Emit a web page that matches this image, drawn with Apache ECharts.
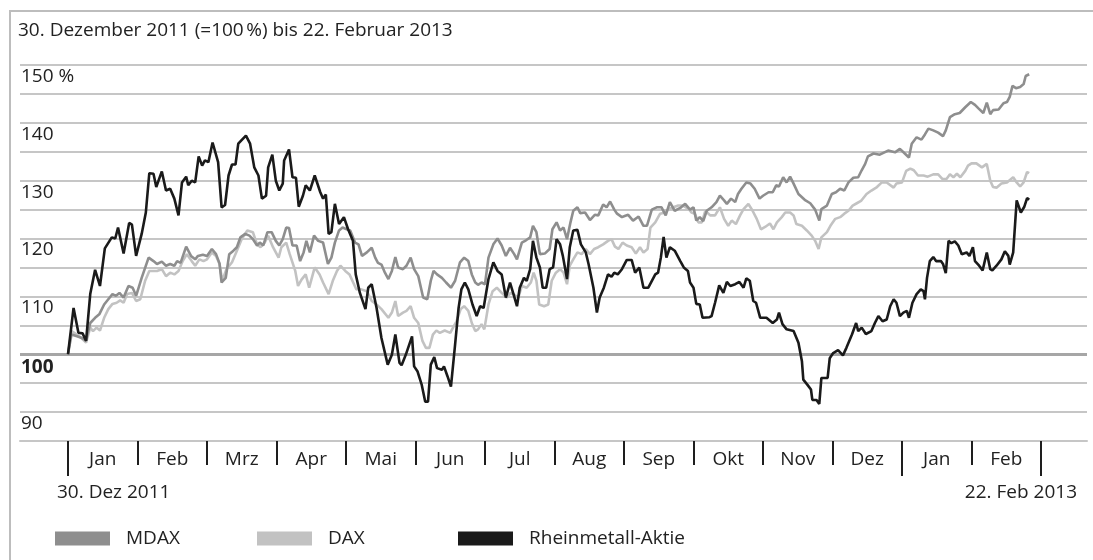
<!DOCTYPE html>
<html>
<head>
<meta charset="utf-8">
<script src="https://cdn.jsdelivr.net/npm/echarts@6/dist/echarts.min.js"></script>
<style>
  html, body { margin: 0; padding: 0; background: #fff; }
  #frame { position: absolute; left: 9px; top: 10px; width: 1100px; height: 560px;
           border-left: 2px solid #bdbdbd; border-top: 2px solid #bdbdbd; box-sizing: border-box; }
  #chart { position: absolute; left: 0; top: 0; width: 1093px; height: 560px; }
</style>
</head>
<body>
<div id="frame"></div>
<div id="chart"></div>
<script>
// x = months since 30 Dec 2011 (each calendar month one unit), y = % (30.12.2011 = 100)
const months = ['Jan','Feb','Mrz','Apr','Mai','Jun','Jul','Aug','Sep','Okt','Nov','Dez','Jan','Feb'];
const yTicks = [90, 100, 110, 120, 130, 140, 150];

const mdax = [[0,100],[0.05,103.4],[0.13,103.1],[0.20,102.8],[0.26,102.4],[0.32,105.4],[0.39,106.3],[0.45,106.9],[0.52,108.6],[0.58,109.5],[0.64,110.4],[0.69,110.1],[0.74,110.6],[0.80,109.8],[0.87,111.8],[0.93,111.5],[0.98,110.1],[1.06,113.2],[1.16,116.7],[1.23,116.1],[1.28,115.6],[1.35,116.0],[1.41,115.3],[1.47,115.6],[1.53,115.3],[1.57,116.1],[1.62,115.8],[1.70,118.6],[1.77,117.0],[1.83,116.4],[1.87,117.0],[1.94,117.2],[2.00,117.0],[2.07,118.2],[2.13,117.3],[2.18,115.7],[2.21,112.4],[2.27,113.2],[2.32,117.3],[2.38,117.9],[2.43,118.5],[2.48,120.2],[2.55,120.8],[2.61,120.5],[2.66,119.9],[2.72,118.8],[2.76,119.3],[2.81,118.8],[2.87,121.1],[2.93,121.1],[2.99,119.6],[3.04,118.8],[3.09,119.9],[3.14,121.9],[3.18,121.8],[3.23,118.8],[3.29,118.8],[3.34,116.1],[3.39,117.6],[3.43,119.6],[3.48,117.6],[3.54,120.5],[3.60,119.6],[3.67,119.3],[3.74,115.6],[3.79,116.7],[3.84,119.3],[3.90,121.4],[3.95,121.9],[4.01,121.6],[4.06,121.4],[4.13,119.3],[4.18,119.0],[4.23,117.0],[4.30,117.6],[4.37,118.4],[4.42,116.7],[4.46,115.8],[4.51,115.5],[4.56,114.1],[4.61,113.0],[4.66,114.4],[4.71,116.8],[4.75,115.0],[4.82,114.7],[4.87,115.3],[4.93,116.7],[4.98,114.7],[5.04,113.5],[5.11,109.8],[5.17,109.5],[5.22,112.7],[5.26,114.4],[5.31,113.8],[5.38,113.2],[5.44,112.4],[5.51,111.5],[5.57,112.7],[5.64,115.9],[5.70,116.7],[5.76,116.1],[5.81,113.8],[5.86,112.4],[5.90,112.0],[5.95,112.4],[6.00,112.1],[6.05,116.7],[6.12,119.0],[6.18,120.0],[6.24,118.8],[6.30,117.0],[6.36,118.4],[6.42,117.3],[6.46,116.4],[6.53,119.3],[6.59,119.7],[6.65,120.2],[6.69,122.2],[6.74,121.1],[6.79,117.3],[6.86,117.4],[6.93,118.2],[6.97,121.6],[7.03,122.8],[7.08,121.4],[7.13,121.9],[7.18,119.9],[7.23,122.8],[7.27,124.8],[7.33,125.4],[7.37,124.4],[7.44,124.5],[7.51,123.2],[7.58,124.1],[7.63,124.0],[7.70,125.9],[7.75,125.4],[7.80,126.4],[7.86,125.0],[7.90,124.3],[7.97,123.7],[8.01,123.9],[8.06,124.1],[8.13,123.1],[8.21,123.8],[8.28,122.2],[8.33,122.2],[8.40,125.0],[8.47,125.4],[8.54,125.4],[8.60,124.0],[8.66,126.3],[8.73,124.8],[8.81,125.3],[8.88,126.0],[8.95,125.0],[9.00,125.4],[9.04,123.1],[9.09,123.7],[9.14,123.0],[9.19,124.8],[9.26,125.4],[9.33,126.3],[9.38,127.4],[9.44,126.6],[9.48,126.0],[9.54,126.9],[9.60,126.3],[9.64,127.7],[9.69,128.6],[9.76,129.7],[9.82,129.5],[9.88,128.6],[9.95,126.9],[10.00,127.4],[10.08,128.0],[10.14,128.0],[10.19,129.2],[10.23,129.0],[10.29,130.6],[10.34,129.7],[10.39,130.7],[10.44,129.5],[10.51,127.7],[10.60,126.7],[10.68,126.1],[10.75,125.0],[10.81,123.1],[10.84,125.1],[10.92,125.7],[10.99,127.7],[11.05,128.0],[11.11,128.6],[11.17,128.3],[11.23,129.7],[11.30,130.5],[11.37,130.6],[11.42,131.8],[11.47,132.9],[11.51,134.2],[11.59,134.7],[11.68,134.5],[11.80,135.2],[11.90,134.9],[11.97,135.5],[12.04,134.7],[12.10,134.0],[12.14,136.4],[12.21,137.5],[12.28,137.1],[12.33,138.0],[12.38,139.0],[12.45,138.7],[12.52,138.3],[12.59,137.7],[12.63,138.7],[12.69,141.0],[12.76,141.5],[12.83,141.7],[12.91,142.7],[12.99,143.6],[13.05,143.1],[13.10,142.5],[13.17,141.7],[13.22,143.5],[13.27,141.5],[13.31,142.2],[13.39,142.3],[13.46,143.4],[13.51,143.6],[13.55,144.5],[13.59,146.4],[13.64,146.0],[13.70,146.2],[13.75,146.7],[13.78,148.1],[13.83,148.4]];

const dax = [[0,100],[0.05,104.0],[0.13,103.4],[0.20,102.7],[0.26,102.0],[0.32,104.6],[0.36,104.0],[0.41,104.6],[0.46,104.1],[0.52,106.3],[0.58,107.8],[0.64,108.7],[0.70,108.9],[0.75,109.3],[0.80,108.9],[0.85,110.4],[0.92,110.6],[0.98,109.2],[1.04,109.5],[1.11,112.7],[1.17,114.4],[1.23,114.4],[1.28,114.4],[1.35,114.7],[1.41,113.5],[1.47,114.1],[1.53,113.8],[1.59,114.4],[1.65,116.1],[1.71,117.3],[1.78,116.1],[1.83,115.3],[1.89,116.4],[1.95,116.1],[2.00,116.4],[2.07,117.6],[2.13,117.0],[2.18,115.6],[2.22,112.7],[2.28,114.7],[2.36,115.9],[2.43,117.9],[2.50,119.9],[2.58,121.4],[2.66,121.1],[2.72,119.0],[2.77,118.5],[2.83,119.3],[2.88,120.5],[2.95,118.5],[3.03,116.7],[3.07,118.5],[3.14,119.3],[3.19,117.3],[3.27,114.4],[3.31,111.8],[3.36,112.9],[3.42,113.8],[3.47,111.5],[3.55,115.0],[3.62,113.8],[3.67,112.4],[3.75,110.4],[3.81,112.7],[3.87,114.4],[3.92,115.3],[3.99,114.4],[4.05,113.8],[4.10,112.5],[4.15,111.2],[4.20,111.3],[4.30,110.9],[4.37,109.2],[4.44,108.6],[4.51,107.8],[4.61,106.3],[4.66,107.2],[4.71,109.2],[4.75,106.6],[4.82,107.2],[4.87,107.5],[4.93,108.3],[4.98,106.3],[5.04,105.4],[5.10,102.3],[5.15,101.1],[5.20,101.1],[5.25,103.4],[5.30,104.1],[5.35,103.7],[5.42,104.1],[5.50,103.7],[5.54,104.6],[5.59,105.7],[5.65,107.8],[5.70,108.3],[5.76,107.5],[5.81,105.4],[5.86,104.0],[5.90,104.3],[5.95,105.2],[5.99,104.3],[6.05,108.6],[6.11,110.9],[6.17,111.5],[6.24,110.6],[6.31,109.8],[6.37,110.6],[6.43,110.2],[6.48,109.8],[6.53,111.8],[6.60,111.5],[6.66,112.4],[6.70,114.1],[6.74,112.7],[6.78,108.6],[6.85,108.3],[6.91,108.6],[6.96,112.7],[7.02,114.1],[7.08,114.7],[7.13,114.1],[7.18,112.1],[7.22,115.3],[7.27,116.4],[7.33,117.6],[7.39,117.3],[7.45,118.2],[7.51,117.3],[7.57,118.2],[7.63,118.5],[7.70,119.0],[7.77,119.6],[7.82,119.9],[7.87,118.6],[7.92,118.2],[7.98,119.3],[8.04,118.8],[8.11,118.5],[8.17,117.4],[8.23,118.5],[8.28,117.6],[8.34,118.2],[8.38,121.9],[8.45,122.8],[8.52,124.3],[8.59,124.5],[8.64,125.1],[8.71,125.4],[8.78,125.7],[8.85,125.7],[8.93,125.1],[8.97,124.5],[9.02,124.3],[9.07,122.8],[9.12,122.8],[9.17,124.8],[9.24,124.0],[9.31,124.0],[9.38,125.4],[9.44,123.4],[9.50,122.2],[9.55,123.1],[9.61,122.5],[9.67,124.0],[9.72,125.1],[9.79,126.0],[9.85,124.8],[9.91,123.4],[9.97,121.6],[10.03,122.0],[10.10,122.6],[10.15,121.6],[10.20,122.8],[10.27,123.7],[10.32,124.5],[10.39,124.5],[10.44,124.0],[10.48,122.5],[10.56,122.2],[10.63,121.4],[10.70,120.5],[10.75,119.6],[10.80,118.2],[10.84,120.2],[10.92,121.1],[10.97,122.2],[11.04,123.4],[11.11,123.7],[11.17,124.3],[11.23,124.8],[11.29,125.7],[11.35,126.1],[11.41,126.5],[11.49,127.7],[11.56,128.3],[11.64,128.9],[11.71,129.7],[11.78,129.7],[11.88,128.8],[11.92,129.5],[12.00,129.7],[12.06,131.7],[12.12,132.1],[12.17,131.8],[12.23,130.9],[12.31,130.9],[12.37,130.7],[12.45,131.1],[12.52,131.1],[12.58,130.3],[12.64,130.3],[12.69,131.1],[12.74,130.6],[12.79,131.2],[12.84,130.6],[12.91,131.7],[12.95,132.6],[13.00,133.0],[13.07,133.0],[13.15,132.3],[13.22,132.9],[13.27,130.0],[13.31,128.9],[13.36,128.8],[13.43,129.5],[13.51,129.7],[13.54,130.0],[13.60,130.6],[13.65,129.7],[13.70,129.0],[13.75,129.7],[13.80,131.5],[13.83,131.3]];

const rheinmetall = [[0,100],[0.08,108.0],[0.15,103.7],[0.21,103.6],[0.26,102.3],[0.32,110.4],[0.39,114.6],[0.46,111.8],[0.53,118.3],[0.63,120.2],[0.68,120.0],[0.72,121.9],[0.80,117.4],[0.88,122.7],[0.92,122.4],[0.98,117.0],[1.06,120.8],[1.12,124.5],[1.17,131.3],[1.23,131.2],[1.27,128.9],[1.35,131.6],[1.41,128.3],[1.47,128.6],[1.53,126.9],[1.59,124.0],[1.64,129.7],[1.70,130.7],[1.73,129.2],[1.78,130.0],[1.83,129.7],[1.88,134.2],[1.93,132.6],[1.97,133.5],[2.02,133.2],[2.08,136.6],[2.16,133.2],[2.21,125.4],[2.26,125.8],[2.31,130.9],[2.36,132.8],[2.41,132.8],[2.45,136.4],[2.56,137.8],[2.62,136.4],[2.68,132.3],[2.74,130.9],[2.79,126.9],[2.85,127.4],[2.88,132.3],[2.94,134.5],[2.99,130.0],[3.04,128.3],[3.09,129.5],[3.11,133.5],[3.18,135.4],[3.23,130.6],[3.28,130.5],[3.32,125.5],[3.38,127.4],[3.42,129.2],[3.48,128.3],[3.55,130.9],[3.63,128.0],[3.67,126.9],[3.71,127.6],[3.75,120.8],[3.79,121.1],[3.84,126.0],[3.90,122.5],[3.97,123.7],[4.03,121.6],[4.10,119.6],[4.14,113.8],[4.20,110.6],[4.28,107.8],[4.32,111.5],[4.37,112.1],[4.44,108.0],[4.51,102.8],[4.60,98.2],[4.66,99.9],[4.71,103.4],[4.77,98.5],[4.80,98.1],[4.86,99.9],[4.95,103.1],[4.98,97.9],[5.03,97.0],[5.09,94.7],[5.14,91.8],[5.18,91.8],[5.22,98.2],[5.27,99.5],[5.31,97.6],[5.38,97.3],[5.41,97.9],[5.46,96.2],[5.51,94.4],[5.57,101.7],[5.62,108.0],[5.66,111.2],[5.71,112.4],[5.76,111.2],[5.82,108.6],[5.88,106.6],[5.93,108.3],[5.98,108.0],[6.05,113.0],[6.12,115.9],[6.18,114.4],[6.24,113.8],[6.30,109.8],[6.36,112.4],[6.41,110.4],[6.46,108.3],[6.50,111.5],[6.56,113.2],[6.60,112.7],[6.65,114.7],[6.69,119.6],[6.74,116.7],[6.79,115.0],[6.83,111.5],[6.88,111.5],[6.93,114.7],[6.98,115.0],[7.03,119.9],[7.08,119.0],[7.12,117.0],[7.18,113.0],[7.22,118.5],[7.27,121.4],[7.33,121.5],[7.38,119.0],[7.45,117.6],[7.49,115.6],[7.56,111.5],[7.61,107.2],[7.65,109.8],[7.71,111.5],[7.77,113.8],[7.82,113.4],[7.86,114.1],[7.91,113.8],[7.97,114.7],[8.04,116.3],[8.11,116.3],[8.16,114.1],[8.22,115.0],[8.28,111.5],[8.35,111.5],[8.45,113.8],[8.49,114.1],[8.53,116.7],[8.57,120.3],[8.61,116.7],[8.66,118.5],[8.73,117.9],[8.81,116.1],[8.86,115.0],[8.92,114.4],[8.95,112.4],[9.00,111.5],[9.04,108.7],[9.09,108.6],[9.13,106.3],[9.23,106.4],[9.26,106.6],[9.31,108.9],[9.37,111.9],[9.43,110.6],[9.48,112.5],[9.53,111.8],[9.60,112.1],[9.66,112.5],[9.72,111.5],[9.76,113.1],[9.81,112.7],[9.86,109.2],[9.90,108.9],[9.96,106.3],[10.05,106.3],[10.14,105.4],[10.20,106.0],[10.23,107.2],[10.28,105.2],[10.34,104.3],[10.44,104.0],[10.51,102.0],[10.56,98.8],[10.58,95.6],[10.64,94.7],[10.69,93.9],[10.71,92.1],[10.77,92.1],[10.81,91.4],[10.84,95.9],[10.89,95.9],[10.93,95.9],[10.96,99.3],[11.01,100.2],[11.08,100.7],[11.15,99.8],[11.20,101.1],[11.28,103.4],[11.34,105.4],[11.37,104.0],[11.42,104.6],[11.48,103.5],[11.56,104.0],[11.61,105.4],[11.66,106.6],[11.72,105.7],[11.78,106.0],[11.83,108.3],[11.88,109.5],[11.92,108.9],[11.97,106.6],[12.02,107.2],[12.07,107.5],[12.10,106.3],[12.15,108.9],[12.21,110.4],[12.27,111.2],[12.31,110.9],[12.33,109.5],[12.36,113.2],[12.40,116.1],[12.45,116.8],[12.49,116.1],[12.56,116.1],[12.59,115.6],[12.63,114.0],[12.67,119.6],[12.71,119.2],[12.76,119.5],[12.81,118.8],[12.86,117.3],[12.93,117.6],[12.97,117.0],[13.02,118.5],[13.05,116.1],[13.11,115.3],[13.16,114.5],[13.22,117.6],[13.27,114.7],[13.30,114.5],[13.36,115.3],[13.43,116.4],[13.48,117.8],[13.53,117.0],[13.55,115.5],[13.60,117.6],[13.65,126.6],[13.71,124.5],[13.76,125.5],[13.80,127.0],[13.83,126.7]];

const monthBounds = [0,1,2,3,4,5,6,7,8,9,10,11,12,13,14];
const yearBounds = [0,12,14];
const labelPos = months.map((m, i) => i + 0.5);

const FONT = '"Open Sans", "Noto Sans", sans-serif';
const FS = 19;
const TXT = '#222';
const GRID = '#c6c6c6';

const chart = echarts.init(document.getElementById('chart'), null, { renderer: 'canvas' });
const xMin = -48 / 69.5, xMax = 14 + 46 / 69.5;

const baseX = {
  type: 'value', min: xMin, max: xMax, position: 'bottom',
  splitLine: { show: false }
};
const txt = { fontSize: FS, fontWeight: 'normal', color: TXT, fontFamily: FONT };

chart.setOption({
  animation: false,
  backgroundColor: 'transparent',
  textStyle: { fontFamily: FONT },
  title: [
    { text: '30. Dezember 2011 (=100\u202F%) bis 22. Februar 2013', left: 18, top: 21, padding: 0, textStyle: txt },
    { text: '30. Dez 2011', left: 57, top: 483, padding: 0, textStyle: txt },
    { text: '22. Feb 2013', right: 16, top: 483, padding: 0, textStyle: txt }
  ],
  legend: [
    { data: ['MDAX'], left: 55 },
    { data: ['DAX'], left: 257 },
    { data: ['Rheinmetall-Aktie'], left: 458 }
  ].map(l => Object.assign({
    top: 529, icon: 'rect', itemWidth: 55, itemHeight: 14, selectedMode: false, padding: 0,
    itemStyle: { borderWidth: 0 },
    textStyle: { fontSize: FS, color: TXT, fontFamily: FONT, padding: [0, 0, 0, 11] }
  }, l)),
  grid: { left: 20, right: 6, top: 65, bottom: 119, containLabel: false },
  xAxis: [
    Object.assign({}, baseX, {
      axisLine: { show: true, lineStyle: { color: GRID, width: 2 } },
      axisTick: { show: true, customValues: monthBounds, length: 24, lineStyle: { color: '#1e1e1e', width: 2 } },
      axisLabel: { show: true, customValues: labelPos, margin: 9, fontSize: FS, color: TXT, fontFamily: FONT,
        formatter: v => months[Math.round(v - 0.5)] }
    }),
    Object.assign({}, baseX, {
      axisLine: { show: false },
      axisTick: { show: true, customValues: yearBounds, length: 35, lineStyle: { color: '#1e1e1e', width: 2 } },
      axisLabel: { show: false }
    })
  ],
  yAxis: {
    type: 'value', min: 85, max: 150, interval: 5,
    axisLine: { show: false }, axisTick: { show: false },
    splitLine: { show: true, lineStyle: { color: GRID, width: 2 } },
    axisLabel: {
      inside: true, margin: 1, verticalAlign: 'top', padding: [2, 0, 0, 0],
      fontSize: FS, color: TXT, fontFamily: FONT,
      formatter: v => {
        if (!yTicks.includes(v)) return '';
        if (v === 150) return '150 %';
        if (v === 100) return '{b|100}';
        return String(v);
      },
      rich: { b: { fontWeight: 'bold', fontSize: FS, color: TXT, fontFamily: FONT, padding: [2, 0, 0, 0] } }
    }
  },
  series: [
    { name: 'DAX', type: 'line', data: dax, showSymbol: false, symbol: 'none', z: 2,
      color: '#c2c2c2', lineStyle: { color: '#c2c2c2', width: 2.6 },
      markLine: { silent: true, symbol: 'none', label: { show: false },
        lineStyle: { color: '#a6a6a6', width: 3, type: 'solid' }, data: [{ yAxis: 100 }], z: 1 } },
    { name: 'MDAX', type: 'line', data: mdax, showSymbol: false, symbol: 'none', z: 3,
      color: '#8e8e8e', lineStyle: { color: '#8e8e8e', width: 2.6 } },
    { name: 'Rheinmetall-Aktie', type: 'line', data: rheinmetall, showSymbol: false, symbol: 'none', z: 4,
      color: '#1a1a1a', lineStyle: { color: '#1a1a1a', width: 2.6 } }
  ]
});
</script>
</body>
</html>
